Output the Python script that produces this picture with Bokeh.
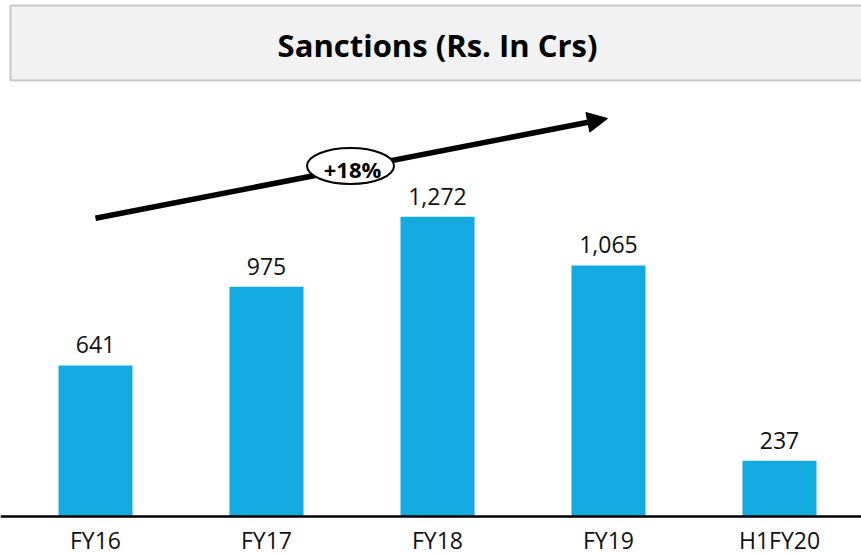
from bokeh.plotting import figure
from bokeh.models import (Range1d, ColumnDataSource, LabelSet, Label,
                          BoxAnnotation, Arrow, NormalHead, Span)
from bokeh.core.properties import value
from bokeh.embed import file_html
from bokeh.resources import INLINE

# ---- data ----
categories = ["FY16", "FY17", "FY18", "FY19", "H1FY20"]
sanctions = [641, 975, 1272, 1065, 237]
title_text = "Sanctions (Rs. In Crs)"
cagr_text = "+18%"

# ---- layout (pixels) ----
W, H = 861, 557
BASE_PX = 516.0              # baseline (axis line) in canvas px
X_PX_PER_UNIT = 171.0
X_FIRST_PX = 95.0
Y_PX_PER_UNIT = 0.2357

x_start = -X_FIRST_PX / X_PX_PER_UNIT
x_end = x_start + W / X_PX_PER_UNIT
y_start = -(H - BASE_PX) / Y_PX_PER_UNIT
y_end = BASE_PX / Y_PX_PER_UNIT


def px2x(px):
    return x_start + px / X_PX_PER_UNIT


def px2y(py):
    return (BASE_PX - py) / Y_PX_PER_UNIT


FONT = "Open Sans"
BAR_COLOR = "#13AAE2"
TEXT_COLOR = "#111111"

p = figure(width=W, height=H, output_backend="svg", toolbar_location=None,
           x_range=Range1d(x_start, x_end), y_range=Range1d(y_start, y_end),
           x_axis_location=None, y_axis_location=None,
           min_border_left=0, min_border_right=0, min_border_top=0, min_border_bottom=0)
p.outline_line_color = None
p.xgrid.visible = False
p.ygrid.visible = False
p.background_fill_color = "white"
p.border_fill_color = "white"

xs = list(range(len(categories)))
src = ColumnDataSource(dict(x=xs, top=sanctions, zero=[0] * len(xs), cat=categories,
                            label=[f"{v:,}" for v in sanctions]))

# title box
p.add_layout(BoxAnnotation(left=px2x(10), right=px2x(866), top=px2y(5), bottom=px2y(80),
                           fill_color="#F2F2F2", fill_alpha=1.0,
                           line_color="#595959", line_width=2, level="underlay"))
p.add_layout(Label(x=px2x(437), y=px2y(44.5), text=title_text, text_align="center",
                   text_baseline="middle", text_font=FONT, text_font_style="bold",
                   text_font_size="31px", text_color="black"))

# bars
p.vbar(x="x", top="top", width=74 / X_PX_PER_UNIT, bottom=0, source=src,
       fill_color=BAR_COLOR, line_color=None)

# baseline
p.add_layout(Span(location=0, dimension="width", line_color="black", line_width=2.5))

# value labels
p.add_layout(LabelSet(x="x", y="top", text="label", source=src, y_offset=12,
                      text_align="center", text_baseline="alphabetic",
                      text_font=value(FONT), text_font_size="23px", text_color=TEXT_COLOR))

# category labels
p.add_layout(LabelSet(x="x", y="zero", text="cat", source=src, y_offset=-32.5,
                      text_align="center", text_baseline="alphabetic",
                      text_font=value(FONT), text_font_size="23px", text_color=TEXT_COLOR))

# growth arrow
p.add_layout(Arrow(x_start=px2x(95), y_start=px2y(217.7), x_end=px2x(607), y_end=px2y(118),
                   line_width=5.5, line_color="black", level="underlay",
                   end=NormalHead(size=20, fill_color="black", line_color="black")))
p.ellipse(x=[px2x(350)], y=[px2y(165.5)], width=87 / X_PX_PER_UNIT,
          height=36 / Y_PX_PER_UNIT, fill_color="white", line_color="black",
          line_width=2)
p.add_layout(Label(x=px2x(352), y=px2y(168), text=cagr_text, text_align="center",
                   text_baseline="middle", text_font=FONT, text_font_style="bold",
                   text_font_size="22px", text_color="black"))

open("out.html", "w").write(file_html(p, INLINE))
